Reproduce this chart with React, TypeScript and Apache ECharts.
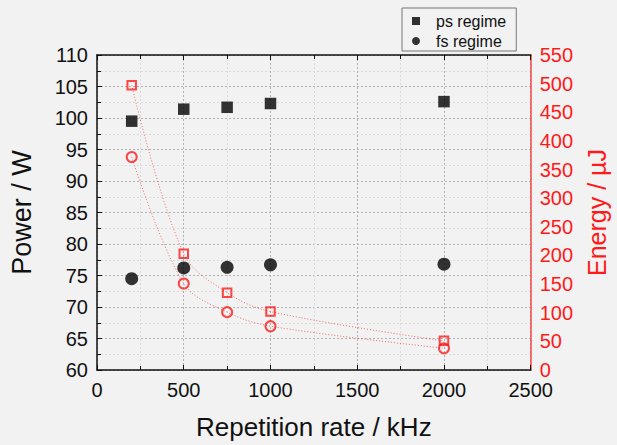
import React, { useEffect, useRef } from "react";
import * as echarts from "echarts";

const rates = [200, 500, 750, 1000, 2000];
const psPower = [99.5, 101.4, 101.7, 102.3, 102.6];
const fsPower = [74.5, 76.2, 76.3, 76.7, 76.8];
const psEnergy = [497, 203, 135, 102, 51];
const fsEnergy = [372, 151, 101, 76.5, 38];

const FONT = "Liberation Sans, Arial, sans-serif";
const RED = "#ff1a1a";

const pairs = (xs: number[], ys: number[]) => xs.map((x, i) => [x, ys[i]]);

export default function App() {
  const ref = useRef<HTMLDivElement>(null);
  useEffect(() => {
    if (!ref.current) return;
    const chart = echarts.init(ref.current, null, { renderer: "svg" });
    const majorSplit = { show: true, lineStyle: { color: "#b0b0b0", type: [2, 2], width: 1 } };
    const minorSplit = { show: true, lineStyle: { color: "#dadada", type: [2, 2], width: 1 } };
    const plain = (v: number) => String(v);
    chart.setOption({
      animation: false,
      backgroundColor: "#f2f2f2",
      textStyle: { fontFamily: FONT },
      grid: { left: 97, right: 79, top: 55, bottom: 69 },
      legend: {
        left: 402,
        top: 8,
        orient: "vertical",
        borderColor: "#777",
        borderWidth: 1,
        padding: [5, 10, 2, 10],
        itemGap: 4,
        itemWidth: 30,
        itemHeight: 8,
        textStyle: { fontSize: 16, color: "#111", fontFamily: FONT },
        data: [
          { name: "ps regime", icon: "path://M0,0h10v10h-10z" },
          { name: "fs regime", icon: "circle" },
        ],
      },
      xAxis: [
        {
          type: "value",
          position: "bottom",
          min: 0,
          max: 2500,
          interval: 500,
          axisLine: { show: true, onZero: false, lineStyle: { color: "#111", width: 1.5 } },
          axisTick: { show: true, inside: true, length: 5, lineStyle: { color: "#111" } },
          minorTick: { show: true, splitNumber: 2, length: 4, lineStyle: { color: "#111" } },
          axisLabel: { fontSize: 20, lineHeight: 16, color: "#111", margin: 12, fontFamily: FONT, formatter: plain },
          splitLine: majorSplit,
          minorSplitLine: minorSplit,
          name: "Repetition rate / kHz",
          nameLocation: "middle",
          nameGap: 44,
          nameTextStyle: { fontSize: 26, color: "#111", fontFamily: FONT },
        },
        {
          type: "value",
          position: "top",
          min: 0,
          max: 2500,
          interval: 500,
          axisLine: { show: true, onZero: false, lineStyle: { color: "#111", width: 1.5 } },
          axisTick: { show: true, inside: true, length: 5, lineStyle: { color: "#111" } },
          minorTick: { show: true, splitNumber: 2, length: 4, lineStyle: { color: "#111" } },
          axisLabel: { show: false },
          splitLine: { show: false },
        },
      ],
      yAxis: [
        {
          type: "value",
          position: "left",
          min: 60,
          max: 110,
          interval: 5,
          axisLine: { show: true, onZero: false, lineStyle: { color: "#111", width: 1.5 } },
          axisTick: { show: true, inside: true, length: 5, lineStyle: { color: "#111" } },
          minorTick: { show: true, splitNumber: 2, length: 4, lineStyle: { color: "#111" } },
          axisLabel: { fontSize: 20, lineHeight: 16, color: "#111", margin: 9, fontFamily: FONT, formatter: plain },
          splitLine: majorSplit,
          minorSplitLine: minorSplit,
          name: "Power / W",
          nameLocation: "middle",
          nameGap: 62,
          nameTextStyle: { fontSize: 27, color: "#111", fontFamily: FONT },
        },
        {
          type: "value",
          position: "right",
          min: 0,
          max: 550,
          interval: 50,
          axisLine: { show: true, onZero: false, lineStyle: { color: "#f04848", width: 1.5 } },
          axisTick: { show: false },
          axisLabel: { fontSize: 20, lineHeight: 16, color: RED, margin: 9, fontFamily: FONT, formatter: plain },
          splitLine: { show: false },
          name: "Energy / µJ",
          nameLocation: "middle",
          nameGap: 50,
          nameTextStyle: { fontSize: 25, color: RED, fontFamily: FONT },
        },
      ],
      series: [
        {
          name: "ps fit",
          type: "line",
          yAxisIndex: 1,
          data: pairs(rates, psEnergy),
          smooth: 0.35,
          showSymbol: false,
          lineStyle: { color: "rgba(240,60,60,0.75)", width: 1, type: [1, 2] },
          z: 1,
        },
        {
          name: "fs fit",
          type: "line",
          yAxisIndex: 1,
          data: pairs(rates, fsEnergy),
          smooth: 0.35,
          showSymbol: false,
          lineStyle: { color: "rgba(240,60,60,0.75)", width: 1, type: [1, 2] },
          z: 1,
        },
        {
          name: "ps regime",
          type: "scatter",
          yAxisIndex: 0,
          data: pairs(rates, psPower),
          symbol: "rect",
          symbolSize: 11.5,
          itemStyle: { color: "#000" },
          z: 3,
        },
        {
          name: "fs regime",
          type: "scatter",
          yAxisIndex: 0,
          data: pairs(rates, fsPower),
          symbol: "circle",
          symbolSize: 13,
          itemStyle: { color: "#000" },
          z: 3,
        },
        {
          name: "ps energy",
          type: "scatter",
          yAxisIndex: 1,
          data: pairs(rates, psEnergy),
          symbol: "rect",
          symbolSize: 8.5,
          itemStyle: { color: "rgba(0,0,0,0)", borderColor: RED, borderWidth: 2 },
          z: 4,
        },
        {
          name: "fs energy",
          type: "scatter",
          yAxisIndex: 1,
          data: pairs(rates, fsEnergy),
          symbol: "circle",
          symbolSize: 10,
          itemStyle: { color: "rgba(0,0,0,0)", borderColor: RED, borderWidth: 2 },
          z: 4,
        },
      ],
    });
    return () => chart.dispose();
  }, []);
  return (
    <div
      ref={ref}
      style={{ position: "absolute", left: 0, top: 0, width: 617, height: 445 }}
    />
  );
}
